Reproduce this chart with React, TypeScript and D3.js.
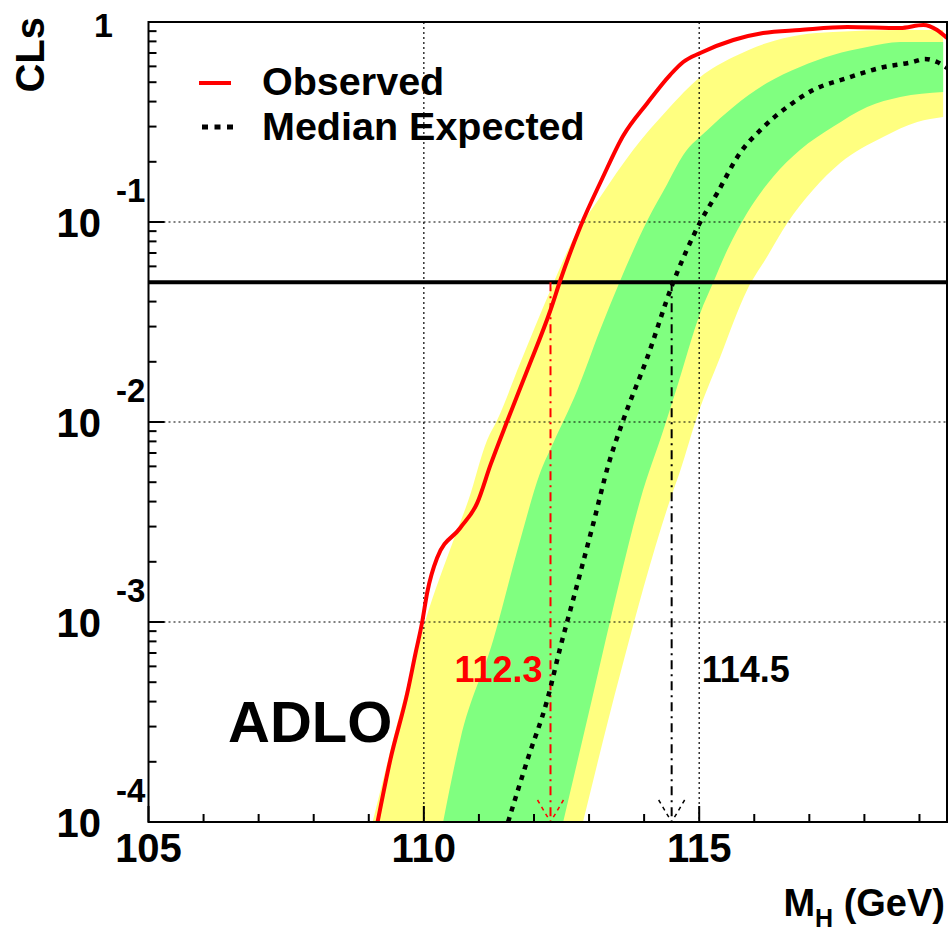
import React from 'react';
import * as d3 from 'd3';

// ---- Data ----
const obsMass = [109.16, 109.39, 109.70, 109.85, 109.97, 110.06, 110.24, 110.66, 110.97, 111.21, 111.52, 111.88, 112.30, 112.48, 112.84, 113.24, 113.62, 114.06, 114.47, 114.71, 115.02, 115.62, 116.16, 116.83, 117.69, 118.65, 119.07, 119.32, 119.50];
const obsCLs = [1.0e-4, 2.04e-4, 4.42e-4, 7.0e-4, 1.0e-3, 1.4e-3, 2.09e-3, 2.95e-3, 3.94e-3, 6.1e-3, 1.02e-2, 1.82e-2, 3.63e-2, 5.13e-2, 9.44e-2, 0.165, 0.270, 0.394, 0.543, 0.631, 0.700, 0.813, 0.881, 0.912, 0.944, 0.933, 0.966, 0.912, 0.832];

const medMass = [111.53, 111.88, 112.24, 112.48, 112.71, 113.08, 113.35, 113.62, 114.06, 114.51, 115.02, 115.33, 115.74, 116.11, 116.60, 117.07, 117.69, 118.28, 118.88, 119.10, 119.32, 119.50];
const medCLs = [1.0e-4, 2.04e-4, 4.07e-4, 7.5e-4, 1.29e-3, 3.13e-3, 6.1e-3, 1.02e-2, 2.11e-2, 4.84e-2, 0.100, 0.140, 0.221, 0.288, 0.376, 0.457, 0.525, 0.589, 0.631, 0.653, 0.631, 0.589];

const green1UpMass = [110.35, 110.66, 111.26, 111.75, 112.11, 112.35, 112.79, 113.20, 113.57, 114.06, 114.42, 114.71, 115.15, 115.62, 116.23, 116.83, 117.43, 118.05, 118.65, 119.43];
const green1UpCLs = [1.0e-4, 2.57e-4, 8.13e-4, 2.57e-3, 5.56e-3, 7.85e-3, 1.45e-2, 2.88e-2, 5.13e-2, 0.102, 0.155, 0.216, 0.288, 0.376, 0.495, 0.596, 0.684, 0.750, 0.794, 0.794];
const green1LoMass = [112.53, 113.05, 113.56, 113.93, 114.35, 114.60, 115.02, 115.25, 115.51, 115.87, 116.34, 116.83, 117.43, 118.05, 118.65, 119.43];
const green1LoCLs = [1.0e-4, 4.07e-4, 1.62e-3, 4.07e-3, 9.12e-3, 1.5e-2, 3.51e-2, 4.95e-2, 7.24e-2, 0.111, 0.168, 0.229, 0.299, 0.376, 0.422, 0.447];

const yellow2UpMass = [109.07, 109.76, 110.03, 110.54, 110.81, 111.15, 111.33, 111.75, 112.30, 112.75, 113.20, 113.80, 114.42, 115.02, 115.62, 116.23, 116.83, 117.43, 118.65, 119.43];
const yellow2UpCLs = [1.0e-4, 5.56e-4, 1.02e-3, 2.57e-3, 4.07e-3, 8.13e-3, 1.02e-2, 1.97e-2, 4.57e-2, 8.61e-2, 0.133, 0.229, 0.363, 0.531, 0.668, 0.786, 0.861, 0.891, 0.912, 0.912];
const yellow2LoMass = [112.89, 113.57, 114.47, 114.66, 114.96, 115.38, 115.87, 116.23, 116.60, 117.07, 117.56, 118.34, 118.96, 119.43];
const yellow2LoCLs = [1.0e-4, 5.56e-4, 4.07e-3, 5.75e-3, 1.06e-2, 2.11e-2, 4.57e-2, 6.68e-2, 9.89e-2, 0.145, 0.197, 0.266, 0.316, 0.335];

const clsThreshold = 0.05;
const limitValues = [112.3, 114.5];
const limitLabels = ['112.3', '114.5'];

const xDomain = [105, 119.5];
const yDomain = [1e-4, 1];
const xMajorTicks = [105, 110, 115];
const xMinorTicks = [106, 107, 108, 109, 111, 112, 113, 114, 116, 117, 118, 119];
const yDecades = [1e-4, 1e-3, 1e-2, 1e-1, 1];
const yDecadeExponents = ['-4', '-3', '-2', '-1', ''];
const xGrid = [110, 115];
const yGrid = [1e-3, 1e-2, 1e-1];

const legendLabels = ['Observed', 'Median Expected'];
const experimentLabel = 'ADLO';

const FONT = '"Liberation Sans", Arial, Helvetica, sans-serif';

export default function App() {
  const W = 948, H = 932;
  const left = 148.5, right = 947, top = 22, bottom = 822;
  const x = d3.scaleLinear().domain(xDomain).range([left, right]);
  const y = d3.scaleLog().domain(yDomain).range([bottom, top]);

  const line = d3.line<[number, number]>()
    .x(d => x(d[0]))
    .y(d => y(d[1]))
    .curve(d3.curveMonotoneX);

  const zip = (a: number[], b: number[]) => a.map((v, i) => [v, b[i]] as [number, number]);

  const bandPath = (upM: number[], upC: number[], loM: number[], loC: number[]) => {
    const p1 = line(zip(upM, upC)) || '';
    const lo = zip(loM, loC).reverse();
    const p2 = (line(lo) || '').replace(/^M/, 'L');
    return p1 + p2 + 'Z';
  };

  const yellowD = bandPath(yellow2UpMass, yellow2UpCLs, yellow2LoMass, yellow2LoCLs);
  const greenD = bandPath(green1UpMass, green1UpCLs, green1LoMass, green1LoCLs);
  const obsD = line(zip(obsMass, obsCLs)) || '';
  const medD = line(zip(medMass, medCLs)) || '';

  const yMinor: number[] = [];
  for (let e = -4; e < 0; e++) for (let k = 2; k <= 9; k++) yMinor.push(k * Math.pow(10, e));

  const limitColors = ['#ff0000', '#000000'];

  return (
    <svg width={W} height={H} style={{ position: 'absolute', left: 0, top: 0, display: 'block', background: '#fff' }}
      fontFamily={FONT} fontWeight="bold">
      <defs>
        <clipPath id="plot">
          <rect x={left} y={top} width={right - left} height={bottom - top} />
        </clipPath>
      </defs>
      <rect x={0} y={0} width={W} height={H} fill="#fff" />
      <g clipPath="url(#plot)">
        <path d={yellowD} fill="#ffff80" stroke="none" />
        <path d={greenD} fill="#80ff80" stroke="none" />
        {xGrid.map(v => (
          <line key={'gx' + v} x1={x(v)} x2={x(v)} y1={top} y2={bottom} stroke="#000" strokeWidth={1.2} strokeDasharray="2,3" />
        ))}
        {yGrid.map(v => (
          <line key={'gy' + v} x1={left} x2={right} y1={y(v)} y2={y(v)} stroke="#000" strokeWidth={1.2} strokeDasharray="2,3" />
        ))}
        <line x1={left} x2={right} y1={y(clsThreshold)} y2={y(clsThreshold)} stroke="#000" strokeWidth={4} />
        {limitValues.map((v, i) => (
          <g key={'lim' + v}>
            <line x1={x(v)} x2={x(v)} y1={y(clsThreshold)} y2={bottom} stroke={limitColors[i]} strokeWidth={2} strokeDasharray="9,5,2,5" />
            <line x1={x(v) - 13} y1={bottom - 22} x2={x(v)} y2={bottom} stroke={limitColors[i]} strokeWidth={1.5} strokeDasharray="4,4" />
            <line x1={x(v) + 13} y1={bottom - 22} x2={x(v)} y2={bottom} stroke={limitColors[i]} strokeWidth={1.5} strokeDasharray="4,4" />
          </g>
        ))}
        <path d={medD} fill="none" stroke="#000" strokeWidth={4.5} strokeDasharray="5,6" />
        <path d={obsD} fill="none" stroke="#ff0000" strokeWidth={4} strokeLinejoin="round" />
      </g>

      {/* frame */}
      <rect x={left} y={top} width={right - left} height={bottom - top} fill="none" stroke="#000" strokeWidth={2} />

      {/* x ticks */}
      {xMajorTicks.map(v => (
        <line key={'xM' + v} x1={x(v)} x2={x(v)} y1={bottom} y2={bottom - 16} stroke="#000" strokeWidth={2} />
      ))}
      {xMinorTicks.map(v => (
        <line key={'xm' + v} x1={x(v)} x2={x(v)} y1={bottom} y2={bottom - 8} stroke="#000" strokeWidth={2} />
      ))}
      {xMajorTicks.map(v => (
        <text key={'xl' + v} x={x(v)} y={862} fontSize={40} textAnchor="middle" fill="#000">{v}</text>
      ))}

      {/* y ticks */}
      {yDecades.map(v => (
        <line key={'yM' + v} x1={left} x2={left + 16} y1={y(v)} y2={y(v)} stroke="#000" strokeWidth={2} />
      ))}
      {yMinor.map(v => (
        <line key={'ym' + v} x1={left} x2={left + 8} y1={y(v)} y2={y(v)} stroke="#000" strokeWidth={2} />
      ))}
      {yDecades.map((v, i) => (
        yDecadeExponents[i] === '' ? (
          <text key={'yl' + v} x={113} y={y(v) + 15} fontSize={34} textAnchor="end" fill="#000">1</text>
        ) : (
          <g key={'yl' + v}>
            <text x={101} y={y(v) + 15} fontSize={40} textAnchor="end" fill="#000">10</text>
            <text x={116} y={y(v) - 20} fontSize={33} textAnchor="start" fill="#000">{yDecadeExponents[i]}</text>
          </g>
        )
      ))}

      {/* axis titles */}
      <text transform="translate(44,17) rotate(-90)" fontSize={40} textAnchor="end" fill="#000">CLs</text>
      <text x={945} y={916} fontSize={38} textAnchor="end" fill="#000">
        <tspan>M</tspan>
        <tspan fontSize={25} dy={11}>H</tspan>
        <tspan dy={-11}> (GeV)</tspan>
      </text>

      {/* legend */}
      <line x1={199} x2={231} y1={83} y2={83} stroke="#ff0000" strokeWidth={4} />
      <text x={262} y={95} fontSize={39.5} fill="#000">{legendLabels[0]}</text>
      <line x1={202} x2={233} y1={127} y2={127} stroke="#000" strokeWidth={5} strokeDasharray="6,6.5" />
      <text x={262} y={140} fontSize={39.5} fill="#000">{legendLabels[1]}</text>

      {/* annotations */}
      <text x={x(limitValues[0]) - 8} y={682} fontSize={36} textAnchor="end" fill="#ff0000">{limitLabels[0]}</text>
      <text x={x(limitValues[1]) + 30} y={682} fontSize={36} textAnchor="start" fill="#000">{limitLabels[1]}</text>
      <text x={228} y={742} fontSize={58} fill="#000">{experimentLabel}</text>
    </svg>
  );
}
